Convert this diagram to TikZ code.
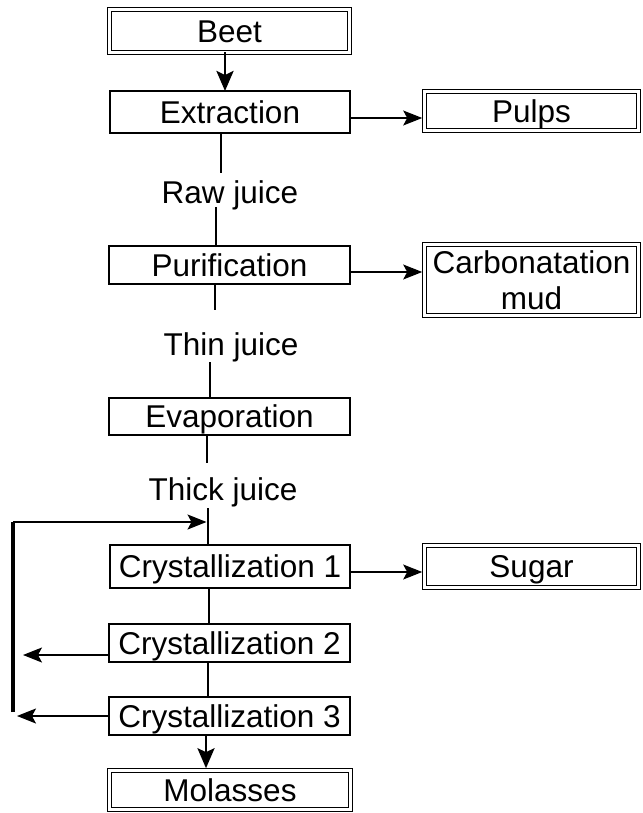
\documentclass[tikz,border=0pt]{standalone}
\usepackage{fontspec}
\setmainfont{Liberation Sans}
\usetikzlibrary{arrows.meta,calc}
\begin{document}
\begin{tikzpicture}[x=1pt,y=-1pt,
  font=\fontsize{31.5}{36}\selectfont,
  box/.style={draw, line width=1.7pt, inner sep=0pt, outer sep=0pt, text height=22.5pt, text depth=0pt},
  dbox/.style={draw, line width=1.2pt, double, double distance=2.4pt, inner sep=0pt, outer sep=0pt, text height=22.5pt, text depth=0pt},
  lbl/.style={inner sep=0pt, outer sep=0pt, anchor=base},
  flow/.style={line width=1.2pt},
  arr/.style={line width=1.3pt, -{Stealth[length=19pt,width=15pt,inset=4pt]}},
  bigarr/.style={line width=2.8pt, -{Stealth[length=20pt,width=17pt,inset=4pt]}},
]
\useasboundingbox (0,0) rectangle (642,813);
\fill[white] (0,0) rectangle (642,813);

% boxes
\node[dbox, minimum width=240pt, minimum height=43pt] (beet) at (229.5,31) {Beet};
\node[box, minimum width=240pt, minimum height=42pt] (ext) at (230,112) {Extraction};
\node[dbox, minimum width=214pt, minimum height=39pt] (pulps) at (531.5,111) {Pulps};
\node[lbl, text height=31.2pt, text depth=3pt] (raw) at (230,204) {Raw juice};
\node[box, minimum width=241pt, minimum height=38pt] (pur) at (229.5,265) {Purification};
\node[dbox, minimum width=214pt, minimum height=71pt, text height=58.5pt, text depth=0pt] (carb) at (531.5,280)
  {\begin{tabular}[b]{@{}c@{}}Carbonatation\\mud\end{tabular}};
\node[lbl, text height=45pt, text depth=7pt] (thin) at (231,355) {Thin juice};
\node[box, minimum width=241pt, minimum height=37pt] (evap) at (229.5,416.5) {Evaporation};
\node[lbl, text height=37pt, text depth=8pt] (thick) at (223,500) {Thick juice};
\node[box, minimum width=240pt, minimum height=43pt] (c1) at (230,566.5) {Crystallization 1};
\node[dbox, minimum width=214pt, minimum height=42pt] (sugar) at (531.5,566.5) {Sugar};
\node[box, minimum width=241pt, minimum height=38pt] (c2) at (229.5,643) {Crystallization 2};
\node[box, minimum width=241pt, minimum height=38pt] (c3) at (229.5,716) {Crystallization 3};
\node[dbox, minimum width=241pt, minimum height=39pt] (mol) at (230,790) {Molasses};

% x positions of the vertical connectors
\coordinate (xb) at (225,0);
\coordinate (xa) at (221,0);
\coordinate (xc) at (216,0);
\coordinate (xd) at (215,0);
\coordinate (xe) at (210,0);
\coordinate (xf) at (207,0);
\coordinate (xg) at (208,0);
\coordinate (xh) at (209,0);
\coordinate (xm) at (206,0);
\coordinate (tip2) at (23,0);
\coordinate (tip3) at (17,0);
\coordinate (fbtop) at (13,522);
\coordinate (fbbot) at (13,712);

% main line
\draw[bigarr] (beet.south -| xb) -- (ext.north -| xb);
\draw[flow] (ext.south -| xa) -- (raw.north -| xa);
\draw[flow] (raw.south -| xc) -- (pur.north -| xc);
\draw[flow] (pur.south -| xd) -- (thin.north -| xd);
\draw[flow] (thin.south -| xe) -- (evap.north -| xe);
\draw[flow] (evap.south -| xf) -- (thick.north -| xf);
\draw[flow] (thick.south -| xg) -- (c1.north -| xg);
\draw[flow] (c1.south -| xh) -- (c2.north -| xh);
\draw[flow] (c2.south -| xg) -- (c3.north -| xg);
\draw[bigarr, shorten >=2.3pt] (c3.south -| xm) -- (mol.north -| xm);

% side products
\draw[arr, shorten >=2.3pt] ([yshift=-6pt]ext.east) coordinate (p1) -- (p1 -| pulps.west);
\draw[arr, shorten >=2.3pt] ([yshift=-7pt]pur.east) coordinate (p2) -- (p2 -| carb.west);
\draw[arr, shorten >=2.3pt] ([yshift=-5.5pt]c1.east) coordinate (p3) -- (p3 -| sugar.west);

% recycle loop
\draw[line width=3.2pt] (fbbot) -- (fbtop);
\draw[arr, shorten >=1.5pt] (fbtop) -- (fbtop -| xg);
\draw[arr] ([yshift=-12pt]c2.west) coordinate (q2) -- (q2 -| tip2);
\draw[arr] (c3.west) -- (c3.west -| tip3);
\end{tikzpicture}
\end{document}
